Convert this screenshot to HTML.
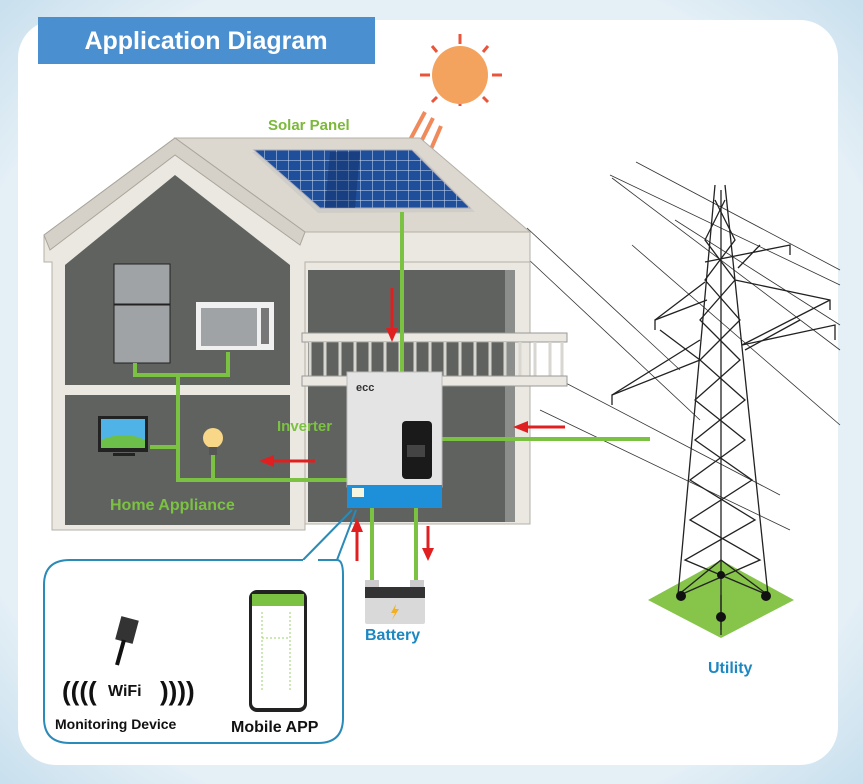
<!DOCTYPE html>
<html><head><meta charset="utf-8"><style>
html,body{margin:0;padding:0;background:#d3e6f1;}
svg{display:block;}
text{font-family:"Liberation Sans",sans-serif;font-weight:bold;}
</style></head><body>
<svg width="863" height="784" viewBox="0 0 863 784" xmlns="http://www.w3.org/2000/svg">
<defs>
<radialGradient id="bg" cx="50%" cy="50%" r="70%"><stop offset="0.8" stop-color="#e4eff6"/><stop offset="1" stop-color="#c9e0ee"/></radialGradient>
<pattern id="cells" width="12" height="10" patternUnits="userSpaceOnUse"><rect width="12" height="10" fill="#1f4e9a"/><path d="M0 0H12M0 0V10" stroke="#cfe0f5" stroke-width="1"/></pattern>
</defs>
<rect width="863" height="784" fill="url(#bg)"/>
<rect x="18" y="20" width="820" height="745" rx="38" fill="#fff"/>
<!-- title -->
<rect x="38" y="17" width="337" height="47" fill="#4a8fd0"/>
<text x="206" y="49" font-size="25" fill="#fff" text-anchor="middle">Application Diagram</text>
<!-- sun -->
<g stroke="#e8553a" stroke-width="3">
<line x1="460" y1="34" x2="460" y2="44"/><line x1="460" y1="96" x2="460" y2="106"/>
<line x1="420" y1="75" x2="430" y2="75"/><line x1="492" y1="75" x2="502" y2="75"/>
<line x1="432" y1="46" x2="437" y2="52"/><line x1="488" y1="46" x2="483" y2="52"/>
<line x1="432" y1="102" x2="437" y2="97"/><line x1="488" y1="102" x2="483" y2="97"/>
</g>
<ellipse cx="460" cy="75" rx="28" ry="29" fill="#f4a35e"/>
<path d="M425 112 L410 140 M433 118 L418 148 M441 126 L428 156" stroke="#f08a5a" stroke-width="4"/>
<text x="268" y="130" font-size="15" fill="#7cb83a">Solar Panel</text>
<!-- power lines -->
<g stroke="#333" stroke-width="0.8" fill="none">
<line x1="610" y1="175" x2="840" y2="285"/>
<line x1="636" y1="162" x2="840" y2="270"/>
<line x1="612" y1="178" x2="840" y2="350"/>
<line x1="675" y1="220" x2="840" y2="325"/>
<line x1="632" y1="245" x2="840" y2="425"/>
<line x1="527" y1="228" x2="680" y2="370"/>
<line x1="527" y1="258" x2="700" y2="420"/>
<line x1="540" y1="410" x2="790" y2="530"/>
<line x1="560" y1="380" x2="780" y2="495"/>
</g>
<!-- tower -->
<polygon points="648,600 721,560 794,600 721,638" fill="#86c44a"/>
<g stroke="#222" stroke-width="1.3" fill="none">
<path d="M715 185 L678 595 M725 185 L768 595"/>
<path d="M715 200 L735 240 L705 280 L740 320 L700 360 L745 400 L695 440 L752 480 L690 520 L760 560 L680 595"/>
<path d="M725 200 L705 240 L735 280 L700 320 L740 360 L695 400 L745 440 L690 480 L755 520 L685 560 L768 595"/>
<path d="M721 190 L721 635"/>
<path d="M707 300 L655 320 L655 330 M735 280 L830 300 L830 310"/>
<path d="M705 262 L790 245 L790 255 M738 268 L760 245"/>
<path d="M700 360 L612 395 L612 405 M742 345 L835 325 L835 340"/>
<path d="M655 320 L705 282 M700 360 L660 330 M742 345 L830 300"/>
<path d="M612 395 L700 340 M745 350 L800 320"/>
<path d="M721 595 L721 630 M678 595 L721 560 L768 595"/>
</g>
<g fill="#111"><circle cx="681" cy="596" r="5"/><circle cx="766" cy="596" r="5"/><circle cx="721" cy="617" r="5"/><circle cx="721" cy="575" r="4"/></g>
<text x="708" y="673" font-size="16" fill="#1d87c2">Utility</text>
<!-- house -->
<polygon points="44,235 175,138 305,232 530,232 530,262 305,262 305,530 52,530 52,262 44,262" fill="#ebe8e1" stroke="#b5b1a8"/>
<polygon points="175,138 420,138 530,232 305,232" fill="#dcd8d0" stroke="#b5b1a8"/>
<polygon points="44,235 175,138 305,232 300,245 175,155 50,250" fill="#d5d1c8" stroke="#a9a59c"/>
<polygon points="65,265 175,175 290,265 290,525 65,525" fill="#5f625f"/>
<rect x="305" y="262" width="225" height="262" fill="#ebe8e1" stroke="#b5b1a8"/>
<rect x="308" y="270" width="205" height="252" fill="#5f625f"/>
<rect x="505" y="270" width="10" height="252" fill="#8c8e8b"/>
<rect x="65" y="385" width="235" height="10" fill="#ebe8e1"/>
<!-- solar panel -->
<polygon points="252,152 416,151 475,212 318,213" fill="#cfcdc7"/>
<polygon points="254,150 412,150 470,208 320,208" fill="url(#cells)" stroke="#aab" stroke-width="1"/>
<polygon points="330,152 360,152 355,208 325,208" fill="#0f2e66" opacity="0.45"/>
<!-- balcony -->
<rect x="302" y="333" width="265" height="9" fill="#ebe8e1" stroke="#999"/>
<g stroke="#d8d6d0" stroke-width="3">
<line x1="310" y1="342" x2="310" y2="378"/><line x1="325" y1="342" x2="325" y2="378"/><line x1="340" y1="342" x2="340" y2="378"/><line x1="355" y1="342" x2="355" y2="378"/><line x1="370" y1="342" x2="370" y2="378"/><line x1="385" y1="342" x2="385" y2="378"/><line x1="400" y1="342" x2="400" y2="378"/><line x1="415" y1="342" x2="415" y2="378"/><line x1="430" y1="342" x2="430" y2="378"/><line x1="445" y1="342" x2="445" y2="378"/><line x1="460" y1="342" x2="460" y2="378"/><line x1="475" y1="342" x2="475" y2="378"/><line x1="490" y1="342" x2="490" y2="378"/><line x1="505" y1="342" x2="505" y2="378"/><line x1="520" y1="342" x2="520" y2="378"/><line x1="535" y1="342" x2="535" y2="378"/><line x1="550" y1="342" x2="550" y2="378"/><line x1="562" y1="342" x2="562" y2="378"/>
</g>
<rect x="302" y="376" width="265" height="10" fill="#ebe8e1" stroke="#999"/>
<!-- appliances -->
<rect x="114" y="264" width="56" height="40" fill="#9fa3a5" stroke="#222"/>
<rect x="114" y="305" width="56" height="58" fill="#9fa3a5" stroke="#222"/>
<rect x="196" y="302" width="78" height="48" fill="#f0f0f0"/>
<rect x="201" y="308" width="56" height="38" fill="#9fa3a5"/>
<rect x="261" y="308" width="8" height="36" fill="#777"/>
<rect x="98" y="416" width="50" height="36" fill="#222"/><rect x="101" y="419" width="44" height="29" fill="#4fb3e8"/><path d="M101 440 Q125 430 145 440 V448 H101Z" fill="#6cc04a"/><rect x="113" y="453" width="22" height="3" fill="#222"/>
<circle cx="213" cy="438" r="10" fill="#f8d888"/><rect x="209" y="447" width="8" height="8" fill="#555"/>
<!-- green lines -->
<g stroke="#7cc242" stroke-width="4" fill="none">
<path d="M402 212 V372"/>
<path d="M442 439 H650"/>
<path d="M347 480 H178 V375 M135 363 V375 H228 V352"/>
<path d="M150 447 H178 M213 455 V480"/>
<path d="M372 508 V585 M416 508 V585"/>
</g>
<!-- inverter -->
<rect x="347" y="372" width="95" height="115" fill="#e4e4e4" stroke="#bbb"/>
<rect x="347" y="485" width="95" height="23" fill="#1e8fd9"/>
<rect x="352" y="488" width="12" height="9" fill="#f5f5e0"/>
<text x="356" y="391" font-size="11" fill="#333" font-weight="normal">ecc</text>
<rect x="402" y="421" width="30" height="58" rx="4" fill="#1a1a1a"/>
<rect x="407" y="445" width="18" height="12" fill="#444"/>
<text x="277" y="431" font-size="15" fill="#7cc242">Inverter</text>
<text x="110" y="510" font-size="16" fill="#7cc242">Home Appliance</text>
<!-- red arrows -->
<g fill="#e02020" stroke="#e02020" stroke-width="3">
<line x1="392" y1="288" x2="392" y2="330"/><polygon points="386,328 398,328 392,342" stroke="none"/>
<line x1="526" y1="427" x2="565" y2="427"/><polygon points="528,421 528,433 513,427" stroke="none"/>
<line x1="272" y1="461" x2="315" y2="461"/><polygon points="274,455 274,467 259,461" stroke="none"/>
<line x1="357" y1="530" x2="357" y2="561"/><polygon points="351,532 363,532 357,518" stroke="none"/>
<line x1="428" y1="526" x2="428" y2="550"/><polygon points="422,548 434,548 428,561" stroke="none"/>
</g>
<!-- battery -->
<rect x="365" y="580" width="14" height="7" fill="#ccc"/><rect x="410" y="580" width="14" height="7" fill="#ccc"/>
<rect x="365" y="587" width="60" height="37" rx="2" fill="#d9d9d9"/>
<rect x="365" y="587" width="60" height="11" fill="#333"/>
<path d="M396 604 L391 613 H395 L392 620 L399 609 H395 Z" fill="#f0b020"/>
<text x="365" y="640" font-size="16" fill="#1d87c2">Battery</text>
<!-- callout -->
<path d="M303 560 L352 510 M337 560 L356 510" stroke="#2a8ab8" stroke-width="2" fill="none"/>
<path d="M70 560 H303 M337 560 H318 M337 560 Q343 560 343 575 V718 Q343 743 318 743 H70 Q44 743 44 718 V585 Q44 560 70 560" stroke="#2a8ab8" stroke-width="2" fill="#fff"/>
<rect x="118" y="618" width="18" height="24" fill="#333" transform="rotate(15 127 630)"/>
<line x1="124" y1="640" x2="117" y2="665" stroke="#111" stroke-width="4"/>
<text x="62" y="700" font-size="26" fill="#111" font-weight="normal">((((</text>
<text x="108" y="696" font-size="16" fill="#111" font-weight="normal">WiFi</text>
<text x="160" y="700" font-size="26" fill="#111" font-weight="normal">))))</text>
<text x="55" y="729" font-size="14" fill="#111">Monitoring Device</text>
<rect x="249" y="590" width="58" height="122" rx="8" fill="#222"/>
<rect x="252" y="594" width="52" height="114" rx="5" fill="#fff"/>
<rect x="252" y="594" width="52" height="12" fill="#7cc242"/>
<path d="M262 612 V690 M290 612 V690 M262 638 H290" stroke="#9cd26a" stroke-width="1" stroke-dasharray="2,2" fill="none"/>
<text x="231" y="732" font-size="16" fill="#111">Mobile APP</text>
</svg>
</body></html>
